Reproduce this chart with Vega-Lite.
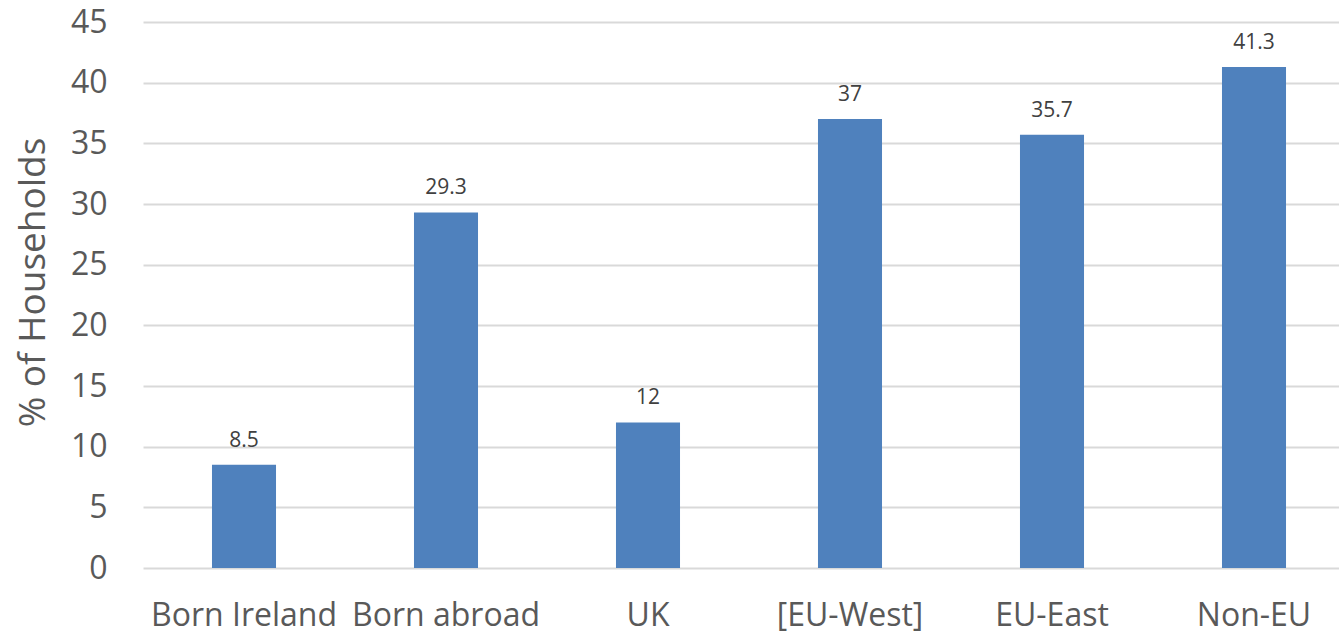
{
  "$schema": "https://vega.github.io/schema/vega-lite/v6.json",
  "autosize": {"type": "none"},
  "width": 1212,
  "height": 546,
  "padding": {"left": 143, "top": 22, "right": 0, "bottom": 67},
  "background": "white",
  "data": {
    "values": [
      {"group": "Born Ireland", "pct": 8.5},
      {"group": "Born abroad", "pct": 29.3},
      {"group": "UK", "pct": 12},
      {"group": "[EU-West]", "pct": 37},
      {"group": "EU-East", "pct": 35.7},
      {"group": "Non-EU", "pct": 41.3}
    ]
  },
  "config": {
    "view": {"stroke": null},
    "font": "Open Sans"
  },
  "encoding": {
    "x": {
      "field": "group",
      "type": "nominal",
      "sort": null,
      "scale": {"paddingInner": 0.683, "paddingOuter": 0.3415},
      "axis": {
        "title": null,
        "labelAngle": 0,
        "labelFontSize": 32,
        "labelColor": "#595959",
        "labelPadding": 32,
        "labelLimit": 0,
        "labelOverlap": false,
        "labelFont": "Open Sans",
        "ticks": false,
        "domain": false
      }
    },
    "y": {
      "field": "pct",
      "type": "quantitative",
      "scale": {"domain": [0, 45], "nice": false},
      "axis": {
        "values": [0, 5, 10, 15, 20, 25, 30, 35, 40, 45],
        "title": "% of Households",
        "titleFontSize": 37,
        "titleFontWeight": "normal",
        "titleColor": "#595959",
        "titlePadding": 18,
        "titleY": 260,
        "labelFontSize": 32,
        "labelColor": "#595959",
        "labelPadding": 36,
        "ticks": false,
        "domain": false,
        "gridColor": "#D9D9D9",
        "gridWidth": 2
      }
    }
  },
  "layer": [
    {"mark": {"type": "bar", "color": "#4F81BD"}},
    {
      "mark": {"type": "text", "baseline": "alphabetic", "dy": -18, "fontSize": 21, "color": "#404040"},
      "encoding": {"text": {"field": "pct", "type": "quantitative"}}
    }
  ]
}
